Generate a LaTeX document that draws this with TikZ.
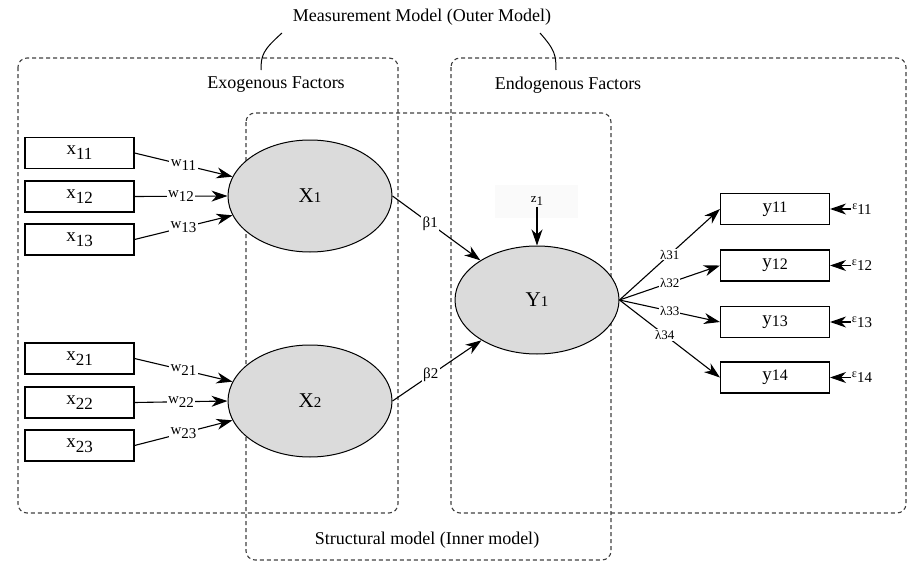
\documentclass[tikz,border=0pt]{standalone}
\usepackage{fontspec}
\setmainfont{Liberation Serif}
\usetikzlibrary{arrows.meta,shapes.geometric}
\begin{document}
\begin{tikzpicture}[x=1pt,y=-1pt,
  dbox/.style={draw=black!75,line width=1.1pt,dash pattern=on 4pt off 3pt,rounded corners=9pt},
  obs/.style={draw,line width=1.1pt,minimum width=109pt,minimum height=31pt,inner sep=0pt,font=\fontsize{19}{19}\selectfont},
  lat/.style={ellipse,draw,line width=1pt,fill=black!14,minimum width=164pt,minimum height=112pt,inner sep=0pt,font=\fontsize{21}{21}\selectfont},
  arr/.style={line width=1.1pt,-{Stealth[length=16pt,width=11pt,inset=5pt]}},
  lbl/.style={fill=white,inner sep=1.5pt,font=\fontsize{15}{15}\selectfont},
  lam/.style={fill=white,inner sep=1pt,font=\fontsize{13}{13}\selectfont},
  ttl/.style={font=\fontsize{18}{18}\selectfont}
]
\useasboundingbox (0,0) rectangle (922,570);
% dashed regions
\draw[dbox] (18,58) rectangle (398,513);
\draw[dbox] (451,58) rectangle (906,513);
\draw[dbox] (246,113) rectangle (611,560);
% titles
\node[ttl] (mm) at (422,17) {Measurement Model (Outer Model)};
\node[ttl] (exo) at (276,85) {Exogenous Factors};
\node[ttl] (endo) at (568,85) {Endogenous Factors};
\node[ttl] (sm) at (427,540) {Structural model (Inner model)};
\coordinate (lt) at (282,33);
\coordinate (lb) at (261,70);
\coordinate (rt) at (540,33);
\coordinate (rb) at (556,70);
\draw[line width=1pt] (lt) .. controls (263,50) and (261,55) .. (lb);
\draw[line width=1pt] (rt) .. controls (555,50) and (556,55) .. (rb);
% latent variables
\node[lat] (X1) at (310,196) {X{\fontsize{15}{15}\selectfont 1}};
\node[lat] (X2) at (310,401) {X{\fontsize{15}{15}\selectfont 2}};
\node[lat,minimum height=108pt] (Y1) at (537,300) {Y{\fontsize{15}{15}\selectfont 1}};
% indicators X
\newcommand{\xsub}[1]{x\raisebox{-5pt}{\fontsize{17}{17}\selectfont #1}}
\node[obs] (x11) at (79.5,153) {\xsub{11}};
\node[obs] (x12) at (79.5,196.5) {\xsub{12}};
\node[obs] (x13) at (79.5,239.5) {\xsub{13}};
\node[obs] (x21) at (79.5,358.5) {\xsub{21}};
\node[obs] (x22) at (79.5,402.5) {\xsub{22}};
\node[obs] (x23) at (79.5,445.5) {\xsub{23}};
\newcommand{\wsub}[1]{w\raisebox{-4pt}{#1}}
\draw[arr] (x11.east) -- node[lbl]{\wsub{11}} (X1.166);
\draw[arr] (x12.east) -- node[lbl]{\wsub{12}} (X1.west);
\draw[arr] (x13.east) -- node[lbl]{\wsub{13}} (X1.194);
\draw[arr] (x21.east) -- node[lbl]{\wsub{21}} (X2.166);
\draw[arr] (x22.east) -- node[lbl]{\wsub{22}} (X2.west);
\draw[arr] (x23.east) -- node[lbl]{\wsub{23}} (X2.194);
% structural paths
\draw[arr] (X1.east) -- node[lbl,pos=0.43]{β1} (Y1.145);
\draw[arr] (X2.east) -- node[lbl,pos=0.43]{β2} (Y1.216);
% disturbance
\fill[black!2] (495,185) rectangle (578,218);
\node[font=\fontsize{13}{13}\selectfont,inner sep=1pt] (z1) at (537,201) {z\raisebox{-3pt}{1}};
\draw[arr] (z1.south) -- (Y1.north);
% indicators Y
\newcommand{\ysub}[2]{y\raisebox{#2}{\fontsize{16}{16}\selectfont #1}}
\node[obs] (y11) at (775,209) {\ysub{11}{0pt}};
\node[obs] (y12) at (775,265.5) {\ysub{12}{-2pt}};
\node[obs] (y13) at (775,322) {\ysub{13}{-2pt}};
\node[obs] (y14) at (775,377.5) {\ysub{14}{0pt}};
\draw[arr] (Y1.east) -- node[lam]{λ31} (y11.west);
\draw[arr] (Y1.east) -- node[lam]{λ32} (y12.west);
\draw[arr] (Y1.east) -- node[lam]{λ33} (y13.west);
\draw[arr] (Y1.east) -- node[lam,pos=0.45]{λ34} (y14.west);
% errors
\newcommand{\esub}[1]{\raisebox{3pt}{\fontsize{12}{12}\selectfont ε}\raisebox{-2pt}{#1}}
\node[font=\fontsize{15}{15}\selectfont,inner sep=1pt] (e11) at (862,209) {\esub{11}};
\node[font=\fontsize{15}{15}\selectfont,inner sep=1pt] (e12) at (862,265.5) {\esub{12}};
\node[font=\fontsize{15}{15}\selectfont,inner sep=1pt] (e13) at (862,322) {\esub{13}};
\node[font=\fontsize{15}{15}\selectfont,inner sep=1pt] (e14) at (862,377.5) {\esub{14}};
\draw[arr] (e11.west) -- (y11.east);
\draw[arr] (e12.west) -- (y12.east);
\draw[arr] (e13.west) -- (y13.east);
\draw[arr] (e14.west) -- (y14.east);
\end{tikzpicture}
\end{document}
